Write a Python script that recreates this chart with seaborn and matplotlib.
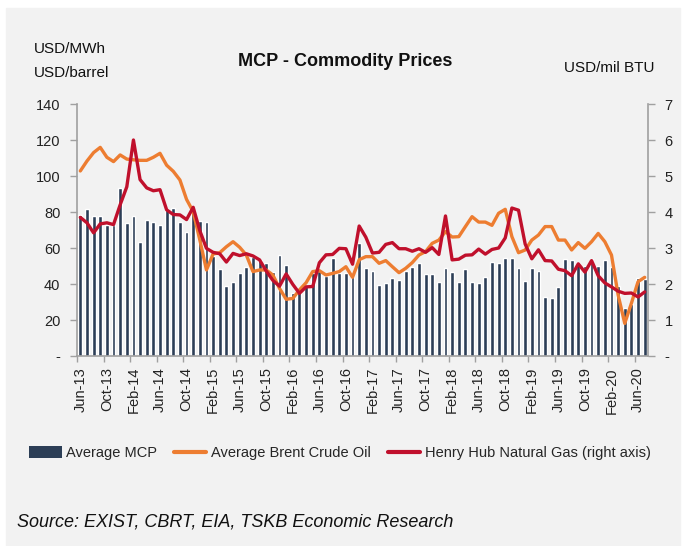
import numpy as np
import pandas as pd
import seaborn as sns
import matplotlib.pyplot as plt
from matplotlib.patches import Rectangle, Patch
from matplotlib.lines import Line2D

# monthly data Jun-13 .. Jul-20
months = pd.date_range('2013-06-01', '2020-07-01', freq='MS').strftime('%b-%y').tolist()

mcp = [78.3, 81.8, 77.6, 77.6, 72.6, 72.6, 93.3, 73.9, 77.6, 63.3, 75.4, 74.6,
       72.6, 81.0, 82.5, 74.4, 68.9, 81.0, 75.2, 74.4, 55.5, 48.1, 38.9, 40.9,
       46.1, 49.6, 55.0, 53.3, 51.5, 46.7, 56.1, 50.4, 35.2, 36.0, 39.0, 46.0,
       47.4, 44.4, 54.4, 45.9, 45.9, 44.5, 63.0, 48.7, 47.3, 39.4, 40.4, 43.1,
       42.2, 47.3, 49.5, 51.5, 45.4, 45.4, 41.0, 48.7, 46.7, 41.1, 48.1, 41.1,
       40.4, 43.7, 52.4, 51.7, 54.4, 54.4, 48.7, 41.7, 48.7, 47.4, 33.0, 32.2,
       38.1, 53.7, 53.1, 51.9, 50.0, 53.9, 50.2, 53.1, 49.4, 38.9, 26.5, 29.0,
       43.1, 42.7]

brent = [102.8, 108.3, 113.0, 115.9, 110.4, 108.0, 111.7, 109.4, 109.0, 108.7, 108.7, 110.4,
         112.6, 106.0, 102.6, 97.8, 87.0, 80.2, 64.4, 47.8, 56.7, 57.4, 60.7, 63.5,
         60.4, 56.1, 46.9, 47.8, 47.8, 45.0, 37.6, 31.5, 32.0, 36.7, 40.7, 46.9,
         47.4, 45.0, 45.9, 46.9, 49.6, 43.7, 53.5, 55.2, 55.2, 51.5, 53.0, 49.6,
         46.3, 48.7, 51.9, 56.1, 58.0, 62.6, 64.4, 69.1, 66.1, 66.3, 71.9, 77.4,
         74.4, 74.4, 72.6, 79.3, 81.5, 66.3, 57.4, 58.9, 64.4, 67.2, 71.9, 71.9,
         64.4, 64.4, 58.9, 63.0, 59.8, 63.5, 68.1, 63.5, 56.1, 33.9, 18.1, 29.3,
         41.3, 43.7]

gas = [3.85, 3.70, 3.42, 3.67, 3.70, 3.65, 4.20, 4.70, 6.00, 4.90, 4.67, 4.59,
       4.62, 4.06, 3.93, 3.92, 3.79, 4.13, 3.48, 2.99, 2.88, 2.84, 2.61, 2.85,
       2.79, 2.84, 2.78, 2.67, 2.36, 2.10, 1.94, 2.28, 1.99, 1.74, 1.92, 1.93,
       2.59, 2.81, 2.82, 2.99, 2.98, 2.55, 3.61, 3.30, 2.86, 2.88, 3.10, 3.15,
       2.98, 2.98, 2.91, 2.98, 2.88, 3.01, 2.82, 3.89, 2.67, 2.69, 2.80, 2.81,
       2.97, 2.83, 2.96, 3.00, 3.28, 4.11, 4.05, 3.11, 2.70, 2.95, 2.65, 2.64,
       2.41, 2.37, 2.23, 2.56, 2.33, 2.65, 2.23, 2.03, 1.92, 1.80, 1.74, 1.75,
       1.64, 1.78]

left_ticks = [0, 20, 40, 60, 80, 100, 120, 140]
right_ticks = [0, 1, 2, 3, 4, 5, 6, 7]

df = pd.DataFrame({'month': months, 'mcp': mcp, 'brent': brent, 'gas': gas,
                   'pos': np.arange(len(months))})

sns.set_theme(style='white')
plt.rcParams['font.family'] = ['Liberation Sans', 'DejaVu Sans']

W, H = 684, 546
fig = plt.figure(figsize=(W / 100, H / 100), dpi=100, facecolor='white')
fig.patches.append(Rectangle((6 / W, 0), 674 / W, 538 / H, transform=fig.transFigure,
                             color='#f2f2f2', zorder=-5))

ax = fig.add_axes([77 / W, 1 - 356 / H, (648 - 77) / W, (356 - 104) / H])
ax.set_facecolor('none')

sns.barplot(data=df, x='month', y='mcp', color='#2c3e56', width=0.58, saturation=1, ax=ax)
sns.lineplot(data=df, x='pos', y='brent', color='#ed7d31', lw=2.4, ax=ax)

ax2 = ax.twinx()
ax2.set_facecolor('none')
sns.lineplot(data=df, x='pos', y='gas', color='#c0102c', lw=2.4, ax=ax2)

n = len(months)
ax.set_xlim(-0.5, n - 0.5)
ax.set_ylim(0, 140)
ax2.set_ylim(0, 7)

ax.set_xticks(np.arange(0, n, 4))
ax.set_xticklabels(months[::4], rotation=90, fontsize=10.5, color='#222222')
ax.set_xticks(np.arange(-0.5, n, 4), minor=True)
ax.tick_params(axis='x', which='major', length=0, pad=8)
ax.tick_params(axis='x', which='minor', length=4, width=1, color='#a0a0a0', bottom=True)

ax.set_yticks(left_ticks)
ax.set_yticklabels(['-' if v == 0 else str(v) for v in left_ticks], fontsize=10.5, color='#222222')
ax.tick_params(axis='y', length=5, width=1, color='#a0a0a0', left=True, pad=7)
ax2.set_yticks(right_ticks)
ax2.set_yticklabels(['-' if v == 0 else str(v) for v in right_ticks], fontsize=10.5, color='#222222')
ax2.tick_params(axis='y', length=5, width=1, color='#a0a0a0', right=True, pad=7)

for a in (ax, ax2):
    a.set_xlabel('')
    a.set_ylabel('')
    a.grid(False)
    for s in a.spines.values():
        s.set_color('#a0a0a0')
        s.set_linewidth(1.2)
    a.spines['top'].set_visible(False)
ax.spines['right'].set_visible(False)
ax2.spines['left'].set_visible(False)
ax2.spines['bottom'].set_visible(False)

fig.text(34 / W, 1 - 49 / H, 'USD/MWh', fontsize=11, va='center', ha='left', color='#111111')
fig.text(34 / W, 1 - 73 / H, 'USD/barrel', fontsize=11, va='center', ha='left', color='#111111')
fig.text(345 / W, 1 - 61 / H, 'MCP - Commodity Prices', fontsize=13, weight='bold',
         va='center', ha='center', color='#111111')
fig.text(655 / W, 1 - 68 / H, 'USD/mil BTU', fontsize=11, va='center', ha='right', color='#111111')

handles = [Patch(facecolor='#2c3e56', edgecolor='none'),
           Line2D([], [], color='#ed7d31', lw=3),
           Line2D([], [], color='#c0102c', lw=3)]
labels = ['Average MCP', 'Average Brent Crude Oil', 'Henry Hub Natural Gas (right axis)']
fig.legend(handles, labels, loc='center', bbox_to_anchor=(340 / W, 1 - 453 / H), ncol=3,
           frameon=False, fontsize=10.5, handlelength=2.2, handleheight=0.9,
           columnspacing=1.2, handletextpad=0.3)

fig.text(17 / W, 1 - 522 / H, 'Source: EXIST, CBRT, EIA, TSKB Economic Research',
         fontsize=13, style='italic', va='center', ha='left', color='#111111')

fig.savefig('out.png', dpi=100, facecolor=fig.get_facecolor())
